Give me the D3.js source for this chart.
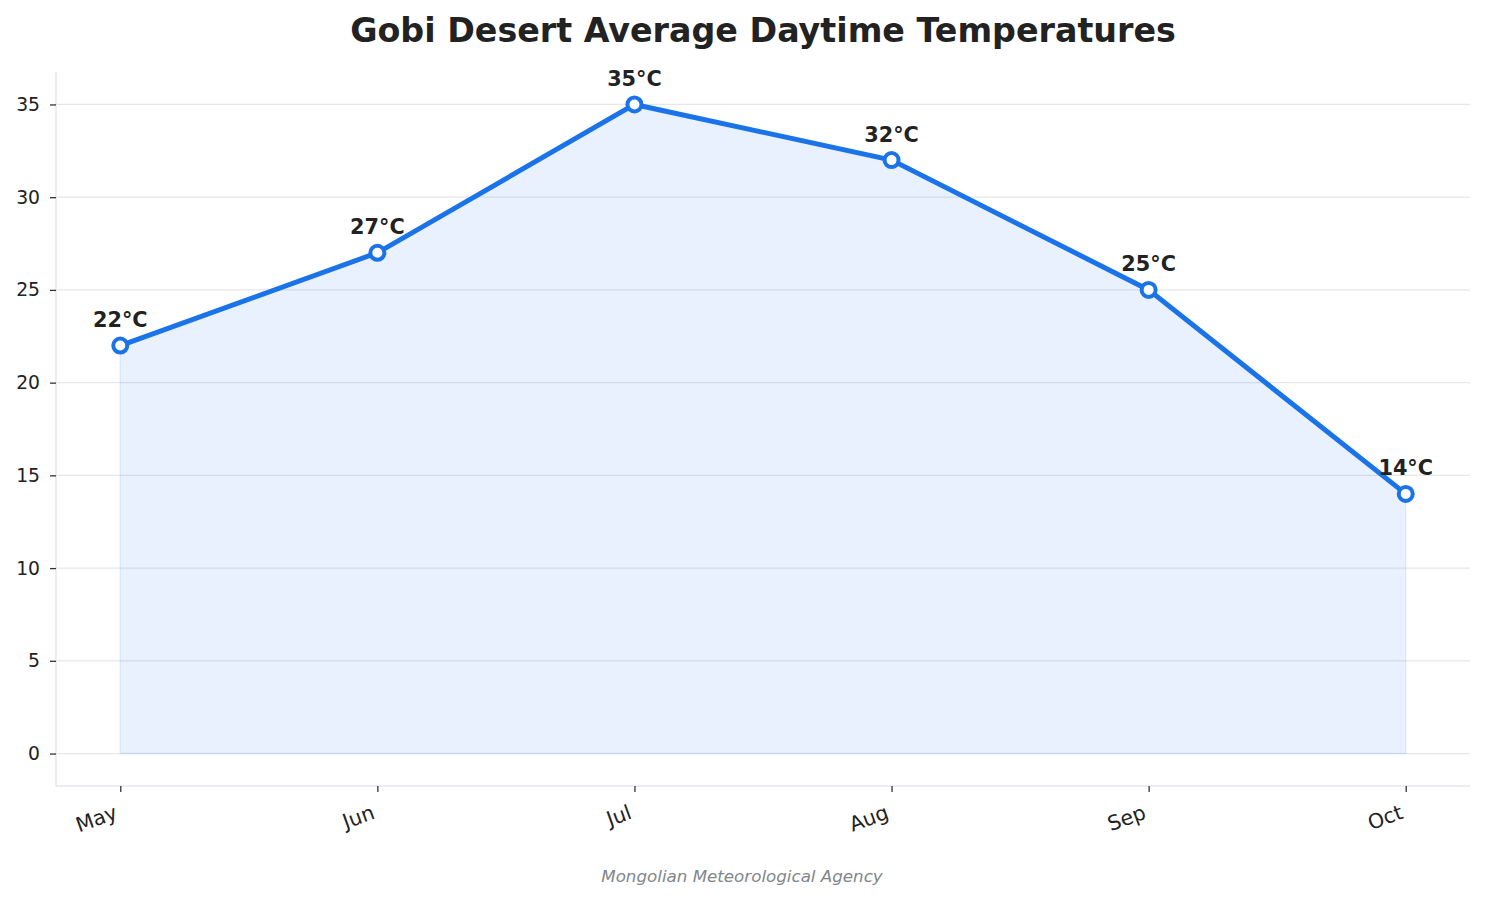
<!DOCTYPE html>
<html>
<head>
<meta charset="utf-8">
<script src="https://cdn.jsdelivr.net/npm/d3@7"></script>
<style>
  body { margin: 0; background: #fff; }
  svg { font-family: "DejaVu Sans", sans-serif; }
</style>
</head>
<body>
<div id="chart"></div>
<script>
// data
const months = ["May", "Jun", "Jul", "Aug", "Sep", "Oct"];
const temps = [22, 27, 35, 32, 25, 14];
const yTicks = [0, 5, 10, 15, 20, 25, 30, 35];

const width = 1485, height = 900;
const margin = {top: 72, right: 15, bottom: 114, left: 56};

let svg = d3.select("#chart").append("svg")
    .attr("width", width)
    .attr("height", height);

let x = d3.scaleLinear()
    .domain([-0.25, months.length - 1 + 0.25])
    .range([margin.left, width - margin.right]);

let y = d3.scaleLinear()
    .domain([-1.75, 36.75])
    .range([height - margin.bottom, margin.top]);

// grid
svg.append("g").selectAll("line")
    .data(yTicks)
    .join("line")
    .attr("x1", margin.left)
    .attr("x2", width - margin.right)
    .attr("y1", d => y(d))
    .attr("y2", d => y(d))
    .attr("stroke", "#e5e7eb")
    .attr("stroke-width", 1.3);

// area fill
let data = temps.map((t, i) => ({i: i, t: t}));
let area = d3.area()
    .x(d => x(d.i))
    .y0(y(0))
    .y1(d => y(d.t));

svg.append("path")
    .datum(data)
    .attr("d", area)
    .attr("fill", "#1a73e8")
    .attr("fill-opacity", 0.1)
    .attr("stroke", "#1a73e8")
    .attr("stroke-opacity", 0.1)
    .attr("stroke-width", 1.5);

// spines
svg.append("line")
    .attr("x1", margin.left).attr("x2", margin.left)
    .attr("y1", margin.top).attr("y2", height - margin.bottom)
    .attr("stroke", "#e5e7eb").attr("stroke-width", 1.5);
svg.append("line")
    .attr("x1", margin.left).attr("x2", width - margin.right)
    .attr("y1", height - margin.bottom).attr("y2", height - margin.bottom)
    .attr("stroke", "#e5e7eb").attr("stroke-width", 1.5);

// y axis
let yAxis = svg.append("g")
    .attr("transform", `translate(${margin.left},0)`)
    .call(d3.axisLeft(y).tickValues(yTicks).tickSize(6).tickPadding(10));
yAxis.select(".domain").remove();
yAxis.selectAll(".tick line").attr("stroke", "#333").attr("stroke-width", 1.3);
yAxis.selectAll(".tick text")
    .attr("fill", "#222")
    .style("font-size", "18.75px")
    .style("font-family", "DejaVu Sans");

// x axis
let xAxis = svg.append("g")
    .attr("transform", `translate(0,${height - margin.bottom})`)
    .call(d3.axisBottom(x).tickValues(d3.range(months.length))
        .tickFormat(i => months[i]).tickSize(6));
xAxis.select(".domain").remove();
xAxis.selectAll(".tick line").attr("stroke", "#333").attr("stroke-width", 1.3);
xAxis.selectAll(".tick text")
    .attr("fill", "#222")
    .style("font-size", "20.5px")
    .style("font-family", "DejaVu Sans")
    .attr("text-anchor", "end")
    .attr("x", 0)
    .attr("y", 0)
    .attr("dy", 0)
    .attr("transform", "translate(-2,32) rotate(-20)");

// line
let line = d3.line()
    .x(d => x(d.i))
    .y(d => y(d.t));

svg.append("path")
    .datum(data)
    .attr("d", line)
    .attr("fill", "none")
    .attr("stroke", "#1a73e8")
    .attr("stroke-width", 5);

// markers
svg.append("g").selectAll("circle")
    .data(data)
    .join("circle")
    .attr("cx", d => x(d.i))
    .attr("cy", d => y(d.t))
    .attr("r", 7)
    .attr("fill", "#fff")
    .attr("stroke", "#1a73e8")
    .attr("stroke-width", 4);

// value labels
svg.append("g").selectAll("text")
    .data(data)
    .join("text")
    .attr("x", d => x(d.i))
    .attr("y", d => y(d.t) - 18.5)
    .attr("text-anchor", "middle")
    .attr("fill", "#222")
    .style("font-size", "20.8px")
    .style("font-weight", "bold")
    .text(d => `${d.t}°C`);

// title
svg.append("text")
    .attr("x", 763)
    .attr("y", 42)
    .attr("text-anchor", "middle")
    .attr("fill", "#222")
    .style("font-size", "33.3px")
    .style("font-weight", "bold")
    .text("Gobi Desert Average Daytime Temperatures");

// source
svg.append("text")
    .attr("x", 742)
    .attr("y", 882)
    .attr("text-anchor", "middle")
    .attr("fill", "#80868b")
    .style("font-size", "16.7px")
    .style("font-style", "italic")
    .text("Mongolian Meteorological Agency");
</script>
</body>
</html>
